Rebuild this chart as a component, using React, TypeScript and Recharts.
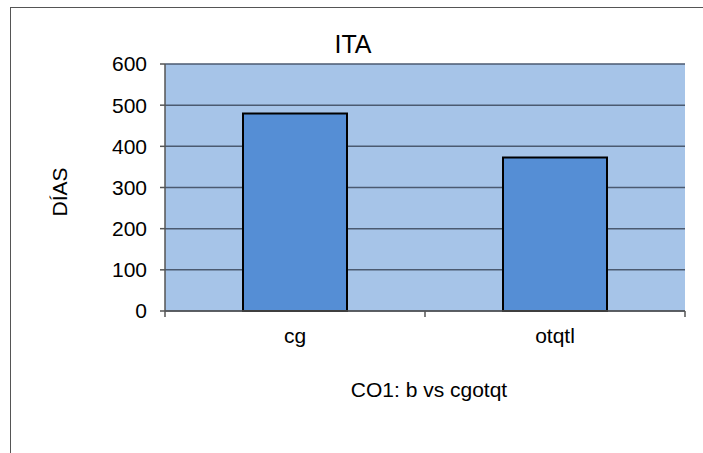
import React from 'react';
import { BarChart, Bar, XAxis, YAxis, CartesianGrid } from 'recharts';

// categorias e valores (dias)
const categorias = ['cg', 'otqtl'];
const dias = [480, 373];
const yTicks = [0, 100, 200, 300, 400, 500, 600];
const limites = [0, 1, 2]; // bordas das categorias (tick marks do eixo X)

const titulo = 'ITA';
const tituloY = 'DÍAS';
const tituloX = 'CO1: b vs cgotqt';

const data = categorias.map((c, i) => ({ cat: c, dias: dias[i], pos: i + 0.5 }));

const FONT = '"Liberation Sans", Arial, sans-serif';
const W = 703;
const H = 453;

export default function App() {
  return (
    <div style={{ position: 'absolute', left: 0, top: 0, width: W, height: H, overflow: 'hidden', background: '#fff', fontFamily: FONT }}>
      {/* moldura externa da area do grafico */}
      <div style={{ position: 'absolute', left: 10, top: 7, width: W, height: H, borderLeft: '1px solid #555', borderTop: '1px solid #555' }} />
      <div style={{ position: 'absolute', left: 0, top: 0 }}>
        <BarChart
          width={W}
          height={H}
          data={data}
          margin={{ top: 64, right: 18, bottom: 111, left: 105 }}
          barCategoryGap="30%"
        >
          <CartesianGrid fill="#A6C4E8" stroke="#4b5a70" strokeWidth={1.5} vertical={false} fillOpacity={1} yAxisId="l" />
          {/* eixo so com os tick marks nas bordas das categorias */}
          <XAxis
            xAxisId="a_lim"
            type="number"
            dataKey="pos"
            domain={[0, 2]}
            ticks={limites}
            allowDataOverflow
            height={1}
            tickFormatter={() => ''}
            tickSize={6}
            tickLine={{ stroke: '#555', strokeWidth: 1.5 }}
            axisLine={{ stroke: '#555', strokeWidth: 1.5 }}
          />
          <XAxis
            xAxisId="b_cat"
            dataKey="cat"
            height={30}
            axisLine={false}
            tickLine={false}
            tickSize={0}
            tickMargin={16}
            tick={{ fill: '#000', fontSize: 21, fontFamily: FONT }}
          />
          <XAxis
            xAxisId="topo"
            orientation="top"
            dataKey="cat"
            height={0}
            tick={false}
            tickLine={false}
            axisLine={{ stroke: '#8c8c8c', strokeWidth: 2 }}
          />
          <YAxis
            yAxisId="l"
            domain={[0, 600]}
            ticks={yTicks}
            width={60}
            tickSize={5}
            tickMargin={13}
            tickLine={{ stroke: '#555', strokeWidth: 1.5 }}
            axisLine={{ stroke: '#555', strokeWidth: 1.5 }}
            tick={{ fill: '#000', fontSize: 21, fontFamily: FONT }}
          />
          <YAxis
            yAxisId="r"
            orientation="right"
            domain={[0, 600]}
            width={0}
            tick={false}
            tickLine={false}
            axisLine={{ stroke: '#8c8c8c', strokeWidth: 2 }}
          />
          <Bar
            xAxisId="b_cat"
            yAxisId="l"
            dataKey="dias"
            fill="#558ED5"
            stroke="#000"
            strokeWidth={2}
            isAnimationActive={false}
          />
        </BarChart>
      </div>
      <div style={{ position: 'absolute', left: 253, width: 200, top: 29, textAlign: 'center', fontSize: 25, lineHeight: '30px', color: '#000' }}>{titulo}</div>
      <div style={{ position: 'absolute', left: 60, top: 192, width: 0, height: 0 }}>
        <div style={{ position: 'absolute', transform: 'translate(-50%, -50%) rotate(-90deg)', fontSize: 21, lineHeight: '24px', whiteSpace: 'nowrap', color: '#000' }}>{tituloY}</div>
      </div>
      <div style={{ position: 'absolute', left: 325, width: 208, top: 377, textAlign: 'center', fontSize: 21, lineHeight: '26px', color: '#000' }}>{tituloX}</div>
    </div>
  );
}
